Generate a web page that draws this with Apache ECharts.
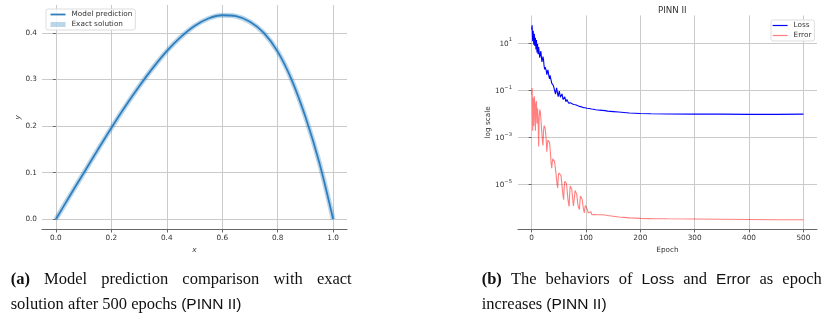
<!DOCTYPE html>
<html>
<head>
<meta charset="utf-8">
<script src="https://cdn.jsdelivr.net/npm/echarts@6/dist/echarts.min.js"></script>
<style>
html,body{margin:0;padding:0;background:#fff;}
#chart{width:832px;height:319px;}
</style>
</head>
<body>
<div id="chart"></div>
<script>
// ---------- Left panel: model prediction vs exact solution ----------
const xValues = [0,0.05,0.1,0.15,0.2,0.25,0.3,0.35,0.4,0.45,0.5,0.55,0.6,0.65,0.7,0.75,0.8,0.85,0.9,0.95,1.0];
const modelPrediction = [0,0.050,0.099,0.148,0.196,0.242,0.285,0.325,0.361,0.391,0.415,0.431,0.438,0.436,0.424,0.400,0.360,0.300,0.220,0.122,0];
const exactSolution   = [0,0.050,0.099,0.148,0.196,0.242,0.285,0.325,0.361,0.391,0.415,0.431,0.438,0.436,0.424,0.400,0.360,0.300,0.220,0.122,0];
const leftXTicks = [0,0.2,0.4,0.6,0.8,1.0];
const leftYTicks = [0,0.1,0.2,0.3,0.4];

// ---------- Right panel: Loss and Error (log10 values) vs epoch ----------
const epochs = [
  0,1,2,3,4,5,6,7,8,9,10,11,12,13,14,15,16,17,18,19,
  20,21,22,23,24,25,26,27,28,29,30,31,32,33,34,35,36,37,38,39,
  40,41,42,43,44,45,46,47,48,49,50,51,52,53,54,55,56,57,58,59,
  60,61,62,63,64,65,66,67,68,69,70,71,72,73,74,75,76,77,78,79,
  80,81,82,83,84,85,86,87,88,89,90,91,92,93,94,95,96,97,98,99,
  100,101,102,103,104,105,106,107,108,109,110,111,112,113,114,115,116,117,118,119,120,
  125,130,135,140,150,160,170,180,190,200,220,250,300,350,400,450,500
];
const lossLog10 = [
  1.60,1.78,1.10,1.55,0.95,1.42,0.90,1.25,0.75,1.15,
  0.62,0.98,0.55,0.85,0.62,0.40,0.55,0.68,0.45,0.22,
  0.30,0.45,0.30,0.05,-0.10,0.00,0.02,-0.15,-0.32,-0.28,
  -0.12,-0.18,-0.40,-0.50,-0.35,-0.28,-0.42,-0.68,-0.75,-0.60,
  -0.78,-0.70,-0.80,-1.05,-1.15,-1.00,-0.88,-0.92,-1.15,-1.25,
  -1.12,-1.02,-1.08,-1.28,-1.33,-1.20,-1.14,-1.20,-1.38,-1.40,
  -1.30,-1.26,-1.33,-1.47,-1.47,-1.38,-1.36,-1.43,-1.53,-1.52,
  -1.46,-1.45,-1.52,-1.58,-1.56,-1.52,-1.53,-1.59,-1.62,-1.60,
  -1.58,-1.60,-1.63,-1.64,-1.63,-1.63,-1.65,-1.66,-1.66,-1.67,
  -1.68,-1.69,-1.70,-1.70,-1.71,-1.72,-1.72,-1.73,-1.73,-1.74,
  -1.74,-1.74,-1.75,-1.75,-1.75,-1.76,-1.76,-1.77,-1.77,-1.77,
  -1.78,-1.78,-1.79,-1.79,-1.79,-1.80,-1.80,-1.80,-1.81,-1.81,-1.81,
  -1.83,-1.84,-1.85,-1.87,-1.89,-1.91,-1.93,-1.95,-1.96,-1.97,-1.98,-1.99,-2.00,-2.00,-2.01,-2.01,-2.00
];
const errorLog10 = [
  -1.17,-0.89,-2.70,-1.30,-2.50,-1.24,-1.60,-2.70,-1.55,-1.45,
  -2.40,-1.75,-2.30,-3.37,-2.10,-1.81,-1.90,-2.15,-2.50,-2.85,
  -3.15,-3.33,-2.70,-2.48,-2.45,-2.60,-2.85,-3.15,-3.60,-3.30,
  -3.10,-3.05,-3.10,-3.20,-3.45,-3.75,-4.10,-4.30,-4.05,-3.90,
  -3.90,-3.95,-4.00,-4.15,-4.35,-4.55,-4.80,-5.00,-5.14,-4.70,
  -4.50,-4.43,-4.43,-4.45,-4.60,-4.80,-5.05,-5.30,-5.50,-5.64,
  -5.10,-4.85,-4.79,-4.82,-4.95,-5.15,-5.40,-5.65,-5.80,-5.92,
  -5.40,-5.05,-5.00,-5.05,-5.20,-5.45,-5.70,-5.90,-5.98,-5.50,
  -5.25,-5.21,-5.25,-5.40,-5.60,-5.80,-5.95,-6.02,-6.05,-5.70,
  -5.48,-5.43,-5.48,-5.62,-5.80,-5.98,-6.10,-6.20,-6.00,-5.88,
  -5.85,-5.86,-5.95,-6.08,-6.20,-6.25,-6.18,-6.13,-6.13,-6.15,
  -6.22,-6.28,-6.30,-6.26,-6.25,-6.27,-6.30,-6.31,-6.30,-6.29,-6.28,
  -6.28,-6.28,-6.29,-6.31,-6.34,-6.37,-6.39,-6.41,-6.42,-6.43,-6.44,-6.45,-6.46,-6.47,-6.48,-6.49,-6.49
];
const rightXTicks = [0,100,200,300,400,500];
const rightYTicks = [-5,-3,-1,1];

const FONT = 'DejaVu Sans';
const LABEL_COLOR = '#333';
const GRID_COLOR = '#cacaca';
const SPINE_COLOR = '#666';

function pairs(xs, ys){ return xs.map((x,i)=>[x, ys[i]]); }
function supLabel(v){
  const e = Math.round(v);
  const s = (e < 0 ? '\u2212' + Math.abs(e) : String(e));
  return '{b|10}{s|' + s + '}';
}

const chart = echarts.init(document.getElementById('chart'), null, {renderer:'canvas'});

const commonAxisLabel = {color: LABEL_COLOR, fontFamily: FONT, fontSize: 7.3};
const legendBase = {
  orient: 'vertical', itemGap: 3, itemWidth: 15, itemHeight: 8,
  backgroundColor: 'rgba(255,255,255,0.85)', borderColor: '#dddddd', borderWidth: 1, borderRadius: 2,
  itemStyle: {opacity: 0},
  textStyle: {fontFamily: FONT, fontSize: 7.3, color: '#333', padding: [0,0,0,1]}
};

const option = {
  animation: false,
  backgroundColor: '#fff',
  title: {
    text: 'PINN II', left: 653, top: 1.5,
    textStyle: {fontFamily: FONT, fontSize: 8.7, fontWeight: 'normal', color: '#333'}
  },
  grid: [
    {left: 42, top: 5, width: 305, height: 224.5},
    {left: 518, top: 15.4, width: 299, height: 214}
  ],
  legend: [
    Object.assign({}, legendBase, {
      data: [
        {name: 'Model prediction', itemStyle: {opacity: 0}, lineStyle: {width: 1.8, color: '#2f7fbf'}},
        {name: 'Exact solution', itemStyle: {opacity: 0}, lineStyle: {width: 5, color: 'rgba(31,119,180,0.3)'}}
      ],
      left: 46, top: 9, padding: [2, 3, 2, 2]
    }),
    Object.assign({}, legendBase, {
      data: [
        {name: 'Loss', itemStyle: {opacity: 0}, lineStyle: {width: 1.2, color: '#0000ff'}},
        {name: 'Error', itemStyle: {opacity: 0}, lineStyle: {width: 1.2, color: 'rgba(255,0,0,0.5)'}}
      ],
      left: 771, top: 20, padding: [2, 3, 2, 1]
    })
  ],
  xAxis: [
    {
      type: 'value', gridIndex: 0, min: -0.05, max: 1.05,
      name: 'x', nameLocation: 'middle', nameGap: 13,
      nameTextStyle: {fontFamily: FONT, fontSize: 7.3, fontStyle: 'italic', color: LABEL_COLOR},
      axisLine: {show: true, onZero: false, lineStyle: {color: SPINE_COLOR, width: 1}},
      axisTick: {show: true, length: 3, customValues: leftXTicks, lineStyle: {color: SPINE_COLOR}},
      axisLabel: Object.assign({customValues: leftXTicks, margin: 5, formatter: v => v.toFixed(1)}, commonAxisLabel),
      splitLine: {show: true, lineStyle: {color: GRID_COLOR, width: 1}}
    },
    {
      type: 'value', gridIndex: 1, min: -25, max: 525,
      name: 'Epoch', nameLocation: 'middle', nameGap: 13,
      nameTextStyle: {fontFamily: FONT, fontSize: 7.3, color: LABEL_COLOR},
      axisLine: {show: true, onZero: false, lineStyle: {color: SPINE_COLOR, width: 1}},
      axisTick: {show: true, length: 3, customValues: rightXTicks, lineStyle: {color: SPINE_COLOR}},
      axisLabel: Object.assign({customValues: rightXTicks, margin: 5, formatter: v => String(v)}, commonAxisLabel),
      splitLine: {show: true, lineStyle: {color: GRID_COLOR, width: 1}}
    }
  ],
  yAxis: [
    {
      type: 'value', gridIndex: 0, min: -0.0219, max: 0.46,
      name: 'y', nameLocation: 'middle', nameGap: 17,
      nameTextStyle: {fontFamily: FONT, fontSize: 7.3, fontStyle: 'italic', color: LABEL_COLOR},
      axisLine: {show: false},
      axisTick: {show: true, length: 3, customValues: leftYTicks, lineStyle: {color: SPINE_COLOR}},
      axisLabel: Object.assign({customValues: leftYTicks, margin: 5, formatter: v => v.toFixed(1)}, commonAxisLabel),
      splitLine: {show: true, lineStyle: {color: GRID_COLOR, width: 1}}
    },
    {
      type: 'value', gridIndex: 1, min: -6.9, max: 2.2,
      name: 'log scale', nameLocation: 'middle', nameGap: 26,
      nameTextStyle: {fontFamily: FONT, fontSize: 7.3, color: LABEL_COLOR},
      axisLine: {show: false},
      axisTick: {show: true, length: 3, customValues: rightYTicks, lineStyle: {color: SPINE_COLOR}},
      axisLabel: {
        customValues: rightYTicks, margin: 6, formatter: supLabel,
        rich: {
          b: {fontFamily: FONT, fontSize: 7.3, color: LABEL_COLOR, lineHeight: 12},
          s: {fontFamily: FONT, fontSize: 5.2, color: LABEL_COLOR, lineHeight: 7, verticalAlign: 'top'}
        }
      },
      splitLine: {show: true, lineStyle: {color: GRID_COLOR, width: 1}}
    }
  ],
  series: [
    {
      name: 'Exact solution', type: 'line', xAxisIndex: 0, yAxisIndex: 0,
      data: pairs(xValues, exactSolution), smooth: 0.35, symbol: 'none',
      lineStyle: {color: 'rgba(31,119,180,0.3)', width: 5},
      itemStyle: {color: 'rgba(31,119,180,0.3)'}, z: 2
    },
    {
      name: 'Model prediction', type: 'line', xAxisIndex: 0, yAxisIndex: 0,
      data: pairs(xValues, modelPrediction), smooth: 0.35, symbol: 'none',
      lineStyle: {color: '#2f7fbf', width: 1.8},
      itemStyle: {color: '#2f7fbf'}, z: 3
    },
    {
      name: 'Loss', type: 'line', xAxisIndex: 1, yAxisIndex: 1,
      data: pairs(epochs, lossLog10), symbol: 'none',
      lineStyle: {color: '#0000ff', width: 1.1},
      itemStyle: {color: '#0000ff'}, z: 3
    },
    {
      name: 'Error', type: 'line', xAxisIndex: 1, yAxisIndex: 1,
      data: pairs(epochs, errorLog10), symbol: 'none',
      lineStyle: {color: 'rgba(255,0,0,0.5)', width: 1.1},
      itemStyle: {color: 'rgba(255,0,0,0.5)'}, z: 3
    }
  ],
  graphic: []
};

// ---------- Captions (justified first lines, measured at runtime) ----------
const SERIF_FONT = '16.5px "Liberation Serif"';
const SERIF_BOLD = 'bold 16.5px "Liberation Serif"';
const SANS_FONT = '15.5px "Liberation Sans"';
const measureCtx = document.createElement('canvas').getContext('2d');
function textWidth(t, font){ measureCtx.font = font; return measureCtx.measureText(t).width; }
function textEl(t, x, y, font){
  return {type: 'text', x: x, y: y, silent: true,
    style: {text: t, fill: '#111', font: font, align: 'left', verticalAlign: 'middle'}};
}
function justifyLine(words, x0, x1, y){
  const widths = words.map(w => textWidth(w[0], w[1]));
  const total = widths.reduce((a,b)=>a+b, 0);
  const gap = (x1 - x0 - total) / (words.length - 1);
  const els = []; let x = x0;
  words.forEach((w,i) => { els.push(textEl(w[0], x, y, w[1])); x += widths[i] + gap; });
  return els;
}
function flowLine(words, x0, y){
  const els = []; let x = x0;
  words.forEach((w,i) => {
    els.push(textEl(w[0], x, y, w[1]));
    x += textWidth(w[0], w[1]) + textWidth(' ', SERIF_FONT);
  });
  return els;
}
const L1 = 280, L2 = 304.5;
option.graphic = [].concat(
  justifyLine([['(a)', SERIF_BOLD], ['Model', SERIF_FONT], ['prediction', SERIF_FONT], ['comparison', SERIF_FONT], ['with', SERIF_FONT], ['exact', SERIF_FONT]], 10.7, 351.7, L1),
  flowLine([['solution after 500 epochs', SERIF_FONT], ['(PINN II)', SANS_FONT]], 10.7, L2),
  justifyLine([['(b)', SERIF_BOLD], ['The', SERIF_FONT], ['behaviors', SERIF_FONT], ['of', SERIF_FONT], ['Loss', SANS_FONT], ['and', SERIF_FONT], ['Error', SANS_FONT], ['as', SERIF_FONT], ['epoch', SERIF_FONT]], 481.7, 821.7, L1),
  flowLine([['increases', SERIF_FONT], ['(PINN II)', SANS_FONT]], 481.7, L2)
);

chart.setOption(option);
</script>
</body>
</html>
